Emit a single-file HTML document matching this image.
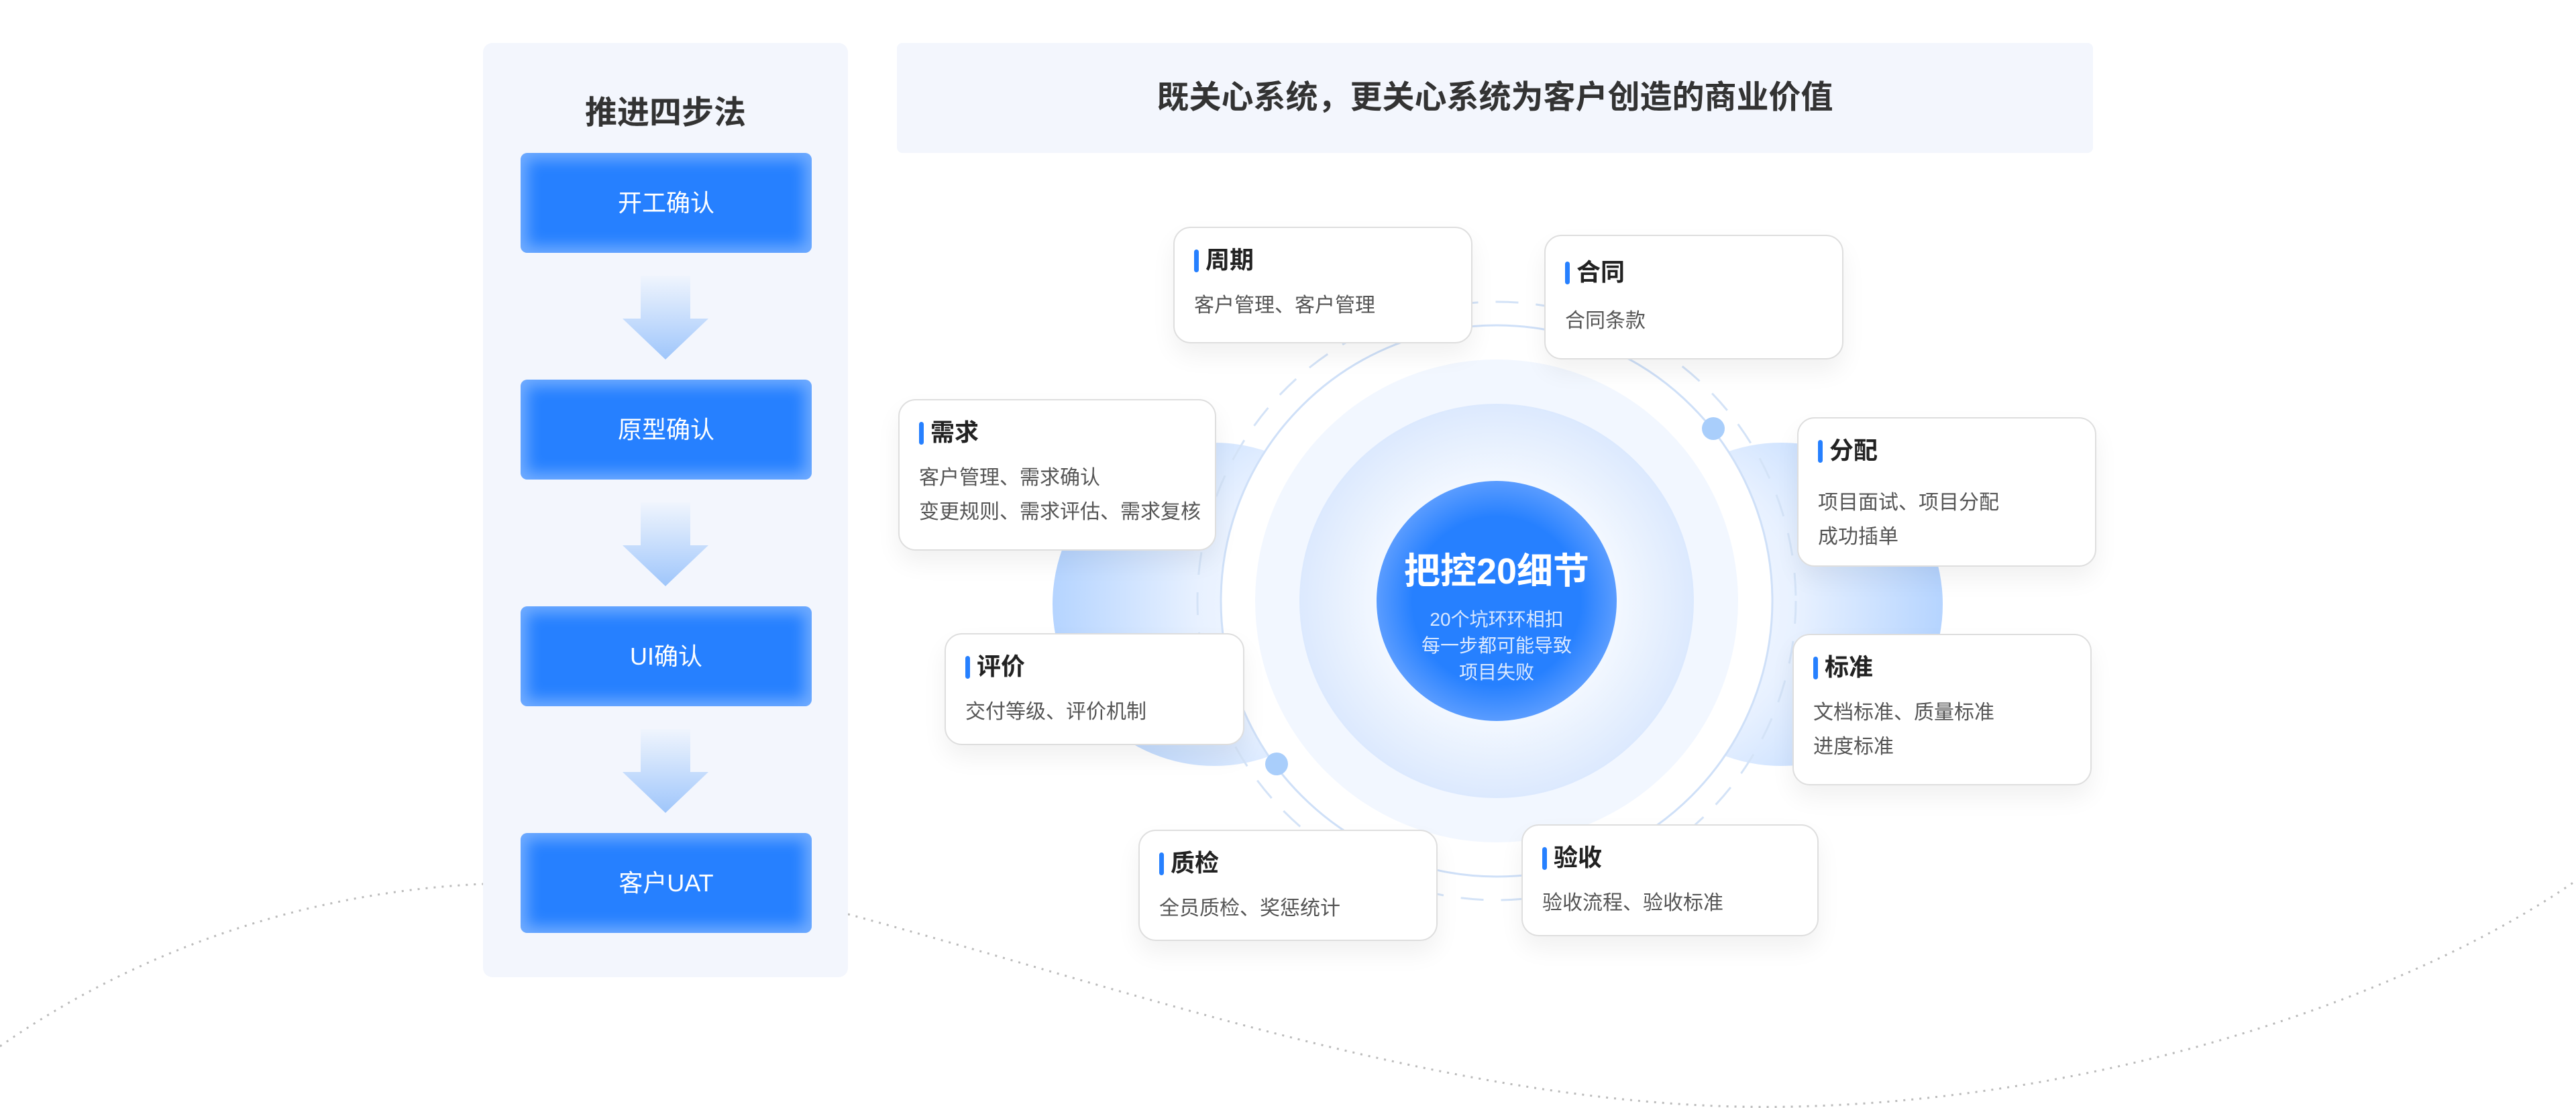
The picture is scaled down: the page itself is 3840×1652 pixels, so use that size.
<!DOCTYPE html>
<html><head><meta charset="utf-8"><style>
*{margin:0;padding:0;box-sizing:border-box}
body{width:3840px;height:1652px;background:#fff;position:relative;overflow:hidden;font-family:"Liberation Sans","Noto Sans CJK SC",sans-serif}
.abs{position:absolute}
.panel{left:720px;top:64px;width:544px;height:1393px;background:#f3f6fd;border-radius:14px}
.ptitle{left:720px;width:544px;top:128px;text-align:center;font-size:48px;font-weight:bold;color:#333}
.btn{left:776px;width:434px;height:149px;border-radius:10px;background:#2680ff;box-shadow:inset 0 0 22px 10px rgba(255,255,255,.35);color:#fff;font-size:36px;text-align:center;line-height:149px}
.banner{left:1337px;top:64px;width:1783px;height:164px;background:#f3f6fd;border-radius:8px;text-align:center;line-height:164px;font-size:48px;font-weight:bold;color:#333}
.card{position:absolute;background:#fff;border:2px solid #dedede;border-radius:26px;box-shadow:0 18px 36px rgba(0,0,0,.06);padding-left:29px}
.card h3{position:absolute;top:24px;left:29px;font-size:36px;font-weight:bold;color:#222;line-height:48px;padding-left:17px}
.card h3:before{content:"";position:absolute;left:0;top:8px;width:7px;height:34px;background:#2680ff;border-radius:4px}
.card p{position:absolute;top:90px;left:29px;font-size:30px;color:#555;line-height:51px;white-space:nowrap}
</style></head><body>
<svg class="abs" style="left:0;top:0" width="3840" height="1652">
<defs>
<radialGradient id="bl" cx="0.9" cy="0.5" r="0.9"><stop offset="0" stop-color="#ffffff"/><stop offset="0.5" stop-color="#e8f1ff"/><stop offset="1" stop-color="#b5d4ff"/></radialGradient>
<radialGradient id="br" cx="0.1" cy="0.5" r="0.9"><stop offset="0" stop-color="#ffffff"/><stop offset="0.5" stop-color="#e8f1ff"/><stop offset="1" stop-color="#b5d4ff"/></radialGradient>
<radialGradient id="mid" cx="0.5" cy="0.5" r="0.5"><stop offset="0.55" stop-color="#f6faff"/><stop offset="1" stop-color="#dce9fe"/></radialGradient>
<radialGradient id="ctr" cx="0.5" cy="0.5" r="0.5"><stop offset="0.7" stop-color="#2680ff"/><stop offset="1" stop-color="#5a9cff"/></radialGradient>
</defs>
<path d="M0 1560 C 200 1420, 450 1330, 720 1318" fill="none" stroke="#bbb" stroke-width="3" stroke-dasharray="3 9"/>
<path d="M1264 1363 C 1700 1480, 2200 1660, 2670 1650 C 3150 1640, 3600 1480, 3840 1313" fill="none" stroke="#bbb" stroke-width="3" stroke-dasharray="3 9"/>
<circle cx="1810" cy="901" r="241" fill="url(#bl)"/>
<circle cx="2655" cy="901" r="241" fill="url(#br)"/>
<circle cx="2231" cy="896" r="446" fill="none" stroke="#d4e3f7" stroke-width="3" stroke-dasharray="34 26"/>
<circle cx="2231" cy="896" r="411" fill="#fff" stroke="#cfe0f8" stroke-width="3"/>
<circle cx="2231" cy="896" r="360" fill="#f2f7ff"/>
<circle cx="2231" cy="896" r="294" fill="url(#mid)"/>
<circle cx="2231" cy="896" r="179" fill="url(#ctr)"/>
<circle cx="2554" cy="639" r="17" fill="#a9cefb"/>
<circle cx="1903" cy="1139" r="17" fill="#a9cefb"/>
<text x="2231" y="870" text-anchor="middle" fill="#fff" font-size="54" font-weight="bold" font-family="Liberation Sans,Noto Sans CJK SC,sans-serif">把控20细节</text>
<g fill="#dbe9ff" font-size="28" text-anchor="middle" font-family="Liberation Sans,Noto Sans CJK SC,sans-serif">
<text x="2231" y="933">20个坑环环相扣</text><text x="2231" y="972">每一步都可能导致</text><text x="2231" y="1012">项目失败</text></g>
</svg>
<div class="abs panel"></div>
<svg class="abs" style="left:0;top:0" width="1300" height="1300">
<defs><linearGradient id="ar" x1="0" y1="0" x2="0" y2="1"><stop offset="0" stop-color="#f0f5fd"/><stop offset="1" stop-color="#9fc6fb"/></linearGradient></defs>
<polygon fill="url(#ar)" points="955,411 1029,411 1029,475 1056,475 992,536 928,475 955,475"/>
<polygon fill="url(#ar)" points="955,749 1029,749 1029,813 1056,813 992,874 928,813 955,813"/>
<polygon fill="url(#ar)" points="955,1087 1029,1087 1029,1151 1056,1151 992,1212 928,1151 955,1151"/>
</svg>
<div class="abs ptitle">推进四步法</div>
<div class="abs btn" style="top:228px">开工确认</div>
<div class="abs btn" style="top:566px">原型确认</div>
<div class="abs btn" style="top:904px">UI确认</div>
<div class="abs btn" style="top:1242px">客户UAT</div>
<div class="abs banner">既关心系统，更关心系统为客户创造的商业价值</div>
<div class="card" style="left:1749px;top:338px;width:446px;height:174px"><h3>周期</h3><p>客户管理、客户管理</p></div>
<div class="card" style="left:2302px;top:350px;width:446px;height:186px"><h3 style="top:30px">合同</h3><p style="top:101px">合同条款</p></div>
<div class="card" style="left:1339px;top:595px;width:474px;height:226px"><h3>需求</h3><p>客户管理、需求确认<br>变更规则、需求评估、需求复核</p></div>
<div class="card" style="left:2679px;top:622px;width:446px;height:223px"><h3>分配</h3><p style="top:100px">项目面试、项目分配<br>成功插单</p></div>
<div class="card" style="left:1408px;top:944px;width:447px;height:167px"><h3>评价</h3><p>交付等级、评价机制</p></div>
<div class="card" style="left:2672px;top:945px;width:446px;height:226px"><h3>标准</h3><p>文档标准、质量标准<br>进度标准</p></div>
<div class="card" style="left:1697px;top:1237px;width:446px;height:166px"><h3>质检</h3><p>全员质检、奖惩统计</p></div>
<div class="card" style="left:2268px;top:1229px;width:443px;height:167px"><h3>验收</h3><p>验收流程、验收标准</p></div>
</body></html>
